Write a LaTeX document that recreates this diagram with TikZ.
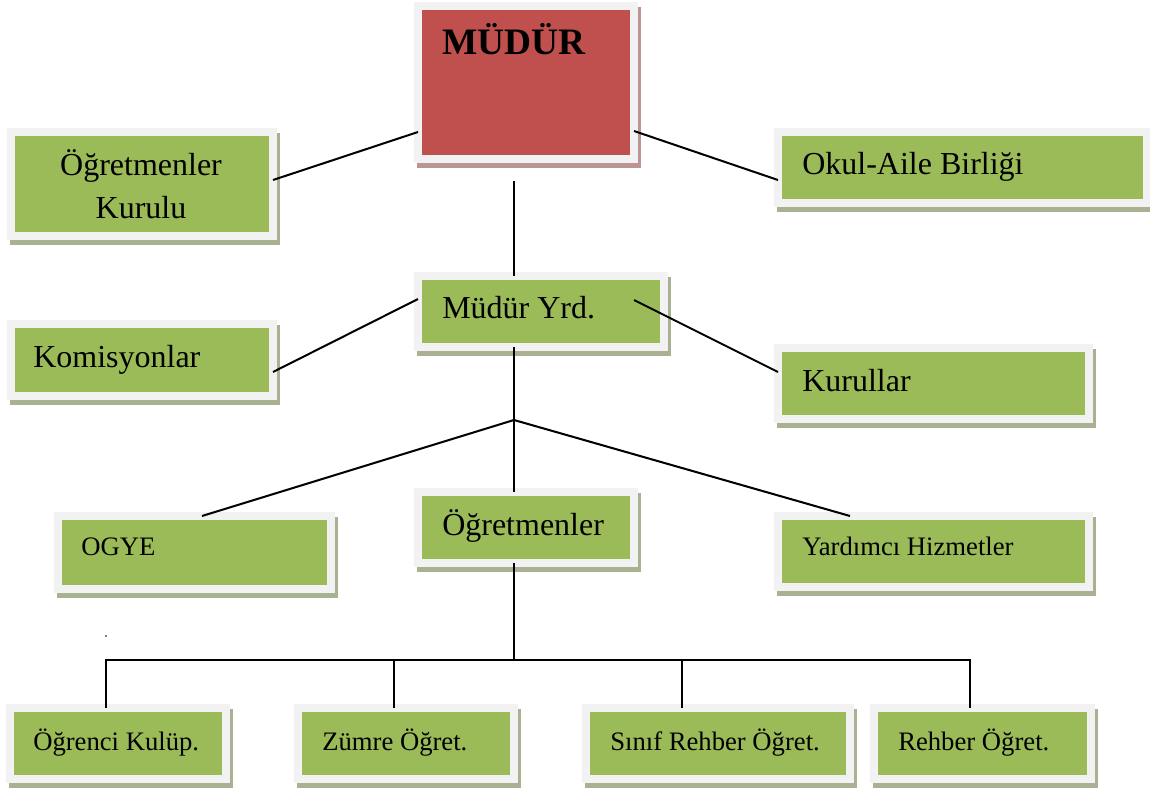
\documentclass[tikz,border=0pt]{standalone}
\usepackage{fontspec}
\setmainfont{Liberation Serif}
\usetikzlibrary{calc}
\definecolor{boxgreen}{HTML}{9BBB59}
\definecolor{boxred}{HTML}{C0504D}
\definecolor{framegray}{HTML}{F2F2F2}
\definecolor{shgreen}{HTML}{A8B292}
\definecolor{shred}{HTML}{BA9593}
\tikzset{
  orgframe/.style={rectangle, draw=framegray, line width=6pt, outer sep=0pt, inner sep=0pt},
  conn/.style={line width=1.5pt, black},
  bigtext/.style={font=\fontsize{24}{28}\selectfont, anchor=base west, inner sep=0pt},
  smalltext/.style={font=\fontsize{20}{24}\selectfont, anchor=base west, inner sep=0pt},
  titletext/.style={font=\fontsize{28}{32}\selectfont\bfseries, anchor=base west, inner sep=0pt},
}
% name, x1, y1, x2, y2 (outer frame, px), fill, shadow colour
\newcommand\orgbox[7]{%
  \fill[#7] (#2+3,#3+5) rectangle (#4+3,#5+5);
  \node[orgframe, fill=#6, anchor=north west,
        minimum width={(#4-#2-8)*0.75pt}, minimum height={(#5-#3-8)*0.75pt}]
        (#1) at (#2+4,#3+4) {};
}
\begin{document}
\begin{tikzpicture}[x=0.75pt, y=-0.75pt]
\useasboundingbox (0,0) rectangle (1150,789);

% boxes
\orgbox{mudur}{414}{2}{638}{163}{boxred}{shred}
\orgbox{ogk}{7}{128}{277}{240}{boxgreen}{shgreen}
\orgbox{okul}{774}{128}{1151}{207}{boxgreen}{shgreen}
\orgbox{myrd}{414}{272}{668}{351}{boxgreen}{shgreen}
\orgbox{kom}{7}{320}{277}{400}{boxgreen}{shgreen}
\orgbox{kur}{774}{344}{1093}{423}{boxgreen}{shgreen}
\orgbox{ogye}{54}{512}{335}{593}{boxgreen}{shgreen}
\orgbox{ogr}{414}{488}{638}{567}{boxgreen}{shgreen}
\orgbox{yard}{774}{512}{1093}{591}{boxgreen}{shgreen}
\orgbox{kulup}{6}{704}{230}{783}{boxgreen}{shgreen}
\orgbox{zumre}{294}{704}{518}{783}{boxgreen}{shgreen}
\orgbox{sinif}{582}{704}{854}{783}{boxgreen}{shgreen}
\orgbox{rehber}{870}{704}{1095}{783}{boxgreen}{shgreen}

% texts
\node[titletext] (tmudur) at (442,54) {MÜDÜR};
\node[bigtext, anchor=base] (togk1) at (141,175) {Öğretmenler};
\node[bigtext, anchor=base] (togk2) at (141,218) {Kurulu};
\node[bigtext] (tokul) at (802,174) {Okul-Aile Birliği};
\node[bigtext] (tmyrd) at (442,318) {Müdür Yrd.};
\node[bigtext] (tkom) at (33,367) {Komisyonlar};
\node[bigtext] (tkur) at (802,391) {Kurullar};
\node[smalltext] (togye) at (81,555) {OGYE};
\node[bigtext] (togr) at (442,535) {Öğretmenler};
\node[smalltext] (tyard) at (802,555) {Yardımcı Hizmetler};
\node[smalltext] (tkulup) at (33,750) {Öğrenci Kulüp.};
\node[smalltext] (tzumre) at (322,750) {Zümre Öğret.};
\node[smalltext] (tsinif) at (610,750) {Sınıf Rehber Öğret.};
\node[smalltext] (trehber) at (898,750) {Rehber Öğret.};

% connectors
\draw[conn] ($(mudur.north west)+(0,126)$) -- ($(ogk.north east)+(0,48)$);
\draw[conn] ($(mudur.north east)+(0,125)$) -- ($(okul.north west)+(0,48)$);
\coordinate (mtop) at ($(mudur.south west)+(96,22)$);
\draw[conn] (mtop) -- (mtop |- myrd.north);
\draw[conn] ($(myrd.north west)+(0,23)$) -- ($(kom.north east)+(0,48)$);
\draw[conn] ($(myrd.north west)+(216,24)$) -- ($(kur.north west)+(0,24)$);
\draw[conn] ($(myrd.south west)+(96,0)$) -- ($(ogr.north west)+(96,0)$);
\coordinate (jn) at ($(myrd.south west)+(96,73)$);
\draw[conn] (jn) -- ($(ogye.north west)+(144,0)$);
\draw[conn] (jn) -- ($(yard.north west)+(72,0)$);
\coordinate (bus) at ($(ogr.south west)+(96,97)$);
\draw[conn] ($(ogr.south west)+(96,0)$) -- (bus);
\draw[conn] ($(kulup.north west)+(96,0)$) |- ($(rehber.north west)+(96,-48)$) -- ($(rehber.north west)+(96,0)$);
\draw[conn] ($(zumre.north west)+(96,0)$) -- ++(0,-48);
\draw[conn] ($(sinif.north west)+(96,0)$) -- ++(0,-48);

% stray dot
\fill (106,636) circle (0.8);
\end{tikzpicture}
\end{document}
